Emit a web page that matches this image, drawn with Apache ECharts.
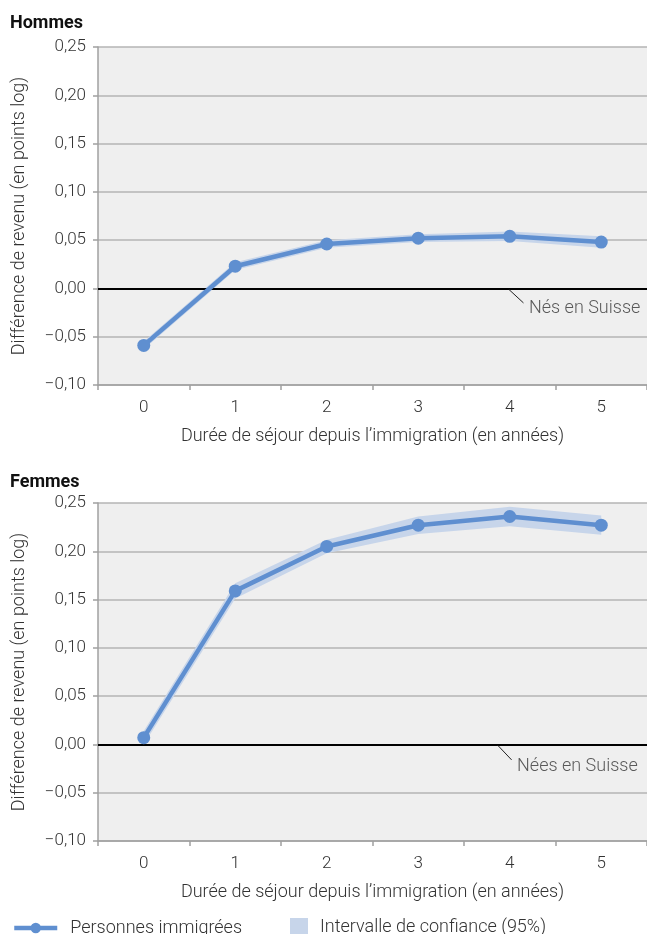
<!DOCTYPE html>
<html><head><meta charset="utf-8">
<script src="https://cdn.jsdelivr.net/npm/echarts@6/dist/echarts.min.js"></script>
<style>html,body{margin:0;padding:0;background:#fff}#c{width:647px;height:934px}</style>
</head><body><div id="c"></div>
<script>
var years = ['0','1','2','3','4','5'];
var hommesMean = [-0.059, 0.023, 0.046, 0.052, 0.054, 0.048];
var hommesLow  = [-0.063, 0.019, 0.042, 0.048, 0.049, 0.042];
var hommesHigh = [-0.055, 0.027, 0.050, 0.056, 0.059, 0.054];
var femmesMean = [0.007, 0.159, 0.205, 0.227, 0.236, 0.227];
var femmesLow  = [0.000, 0.151, 0.198, 0.218, 0.226, 0.217];
var femmesHigh = [0.014, 0.167, 0.212, 0.236, 0.246, 0.237];
var yTicks = {min: -0.10, max: 0.25, interval: 0.05};
var hommesNote = {text: 'Nés en Suisse', leader: [[3.99, -0.001], [4.15, -0.015]], label: [4.21, -0.0205]};
var femmesNote = {text: 'Nées en Suisse', leader: [[3.87, -0.001], [4.02, -0.016]], label: [4.08, -0.0225]};

var FONT = 'Roboto';
var FW = 300;
var lineColor = '#5f8fd0';
var bandColor = '#c7d5ea';
var diff = function(lo, hi){ return hi.map(function(h,i){ return +(h - lo[i]).toFixed(4); }); };
var fmt = function(v){ return v.toFixed(2).replace('.', ',').replace('-', '\u2212'); };

var chart = echarts.init(document.getElementById('c'), null, {renderer:'canvas'});
var grids = [
  {left: 98, top: 47, width: 554, height: 338, show: true, backgroundColor: '#efefef', borderWidth: 0},
  {left: 98, top: 503, width: 554, height: 338, show: true, backgroundColor: '#efefef', borderWidth: 0}
];
function xCat(i){
  return {type:'category', gridIndex:i, data: years, boundaryGap:true,
    axisLine:{onZero:false, lineStyle:{color:'#a0a0a0', width:1.5}},
    axisTick:{show:true, length:5, lineStyle:{color:'#a0a0a0', width:1.5}},
    axisLabel:{color:'#333', fontFamily:FONT, fontWeight:FW, fontSize:17, margin:14},
    name:'Durée de séjour depuis l\u2019immigration (en années)', nameLocation:'middle', nameGap:42,
    nameTextStyle:{color:'#333', fontFamily:FONT, fontWeight:FW, fontSize:18}};
}
function xVal(i){ return {type:'value', gridIndex:i, min:-0.5, max:5.5, show:false}; }
function yAx(i){
  return {type:'value', gridIndex:i, min:yTicks.min, max:yTicks.max, interval:yTicks.interval,
    axisLine:{show:true, onZero:false, lineStyle:{color:'#a0a0a0', width:1.5}},
    axisTick:{show:true, length:5, lineStyle:{color:'#a0a0a0', width:1.5}},
    axisLabel:{color:'#333', fontFamily:FONT, fontWeight:FW, fontSize:17, margin:12, formatter: fmt},
    splitLine:{show:true, lineStyle:{color:'#b4b4b4', width:1.5}},
    name:'Différence de revenu (en points log)', nameLocation:'middle', nameGap:70, nameRotate:90,
    nameTextStyle:{color:'#333', fontFamily:FONT, fontWeight:FW, fontSize:18}};
}
function panel(i, mean, lo, hi, note){
  return [
    {type:'line', name:'base'+i, xAxisIndex:i, yAxisIndex:i, data: lo, stack:'band'+i, stackStrategy:'all',
      lineStyle:{width:0, opacity:0}, symbol:'none', silent:true, z:2},
    {type:'line', name:'Intervalle de confiance (95%)', xAxisIndex:i, yAxisIndex:i, data: diff(lo, hi), stack:'band'+i, stackStrategy:'all',
      lineStyle:{width:0, opacity:0}, symbol:'none', areaStyle:{color:bandColor, opacity:1}, itemStyle:{color:bandColor}, silent:true, z:2},
    {type:'line', name:'Personnes immigrées', xAxisIndex:i, yAxisIndex:i, data: mean,
      lineStyle:{color:lineColor, width:4.5}, itemStyle:{color:lineColor}, symbol:'circle', symbolSize:13, z:5,
      markLine:{silent:true, symbol:'none', label:{show:false}, lineStyle:{color:'#000', width:2, type:'solid'}, data:[{yAxis:0}], z:3}},
    {type:'line', xAxisIndex:i+2, yAxisIndex:i, data: note.leader, symbol:'none', silent:true,
      lineStyle:{color:'#222', width:1}, z:4},
    {type:'scatter', xAxisIndex:i+2, yAxisIndex:i, data:[note.label], symbolSize:0, silent:true,
      label:{show:true, position:'right', distance:0, formatter: note.text, color:'#333', fontFamily:FONT, fontWeight:FW, fontSize:18}}
  ];
}
var option = {
  animation:false,
  backgroundColor:'#fff',
  title:[
    {text:'Hommes', left:5, top:9, textStyle:{fontFamily:FONT, fontSize:18, fontWeight:'bold', color:'#111'}},
    {text:'Femmes', left:5, top:468, textStyle:{fontFamily:FONT, fontSize:18, fontWeight:'bold', color:'#111'}}
  ],
  grid: grids,
  xAxis:[xCat(0), xCat(1), xVal(0), xVal(1)],
  yAxis:[yAx(0), yAx(1)],
  legend:[
    {data:['Personnes immigrées'], left:7, top:914, itemWidth:43, itemHeight:13,
      lineStyle:{width:4.5, color:lineColor}, itemStyle:{color:lineColor},
      textStyle:{fontFamily:FONT, fontWeight:FW, fontSize:18, color:'#333', padding:[0,0,0,8]}},
    {data:[{name:'Intervalle de confiance (95%)', icon:'rect'}], left:285, top:913, itemWidth:18, itemHeight:18,
      textStyle:{fontFamily:FONT, fontWeight:FW, fontSize:18, color:'#333', padding:[0,0,0,7]}}
  ],
  series: panel(0, hommesMean, hommesLow, hommesHigh, hommesNote).concat(panel(1, femmesMean, femmesLow, femmesHigh, femmesNote))
};
chart.setOption(option);
</script></body></html>
